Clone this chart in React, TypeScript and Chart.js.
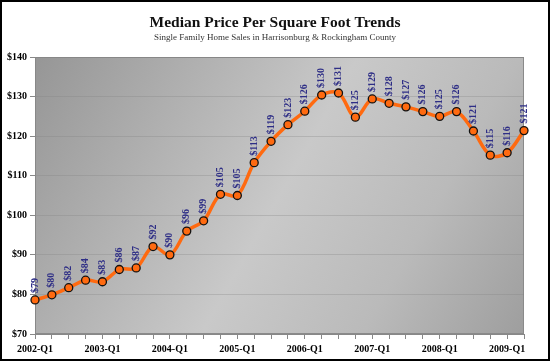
import React, { useEffect, useRef } from "react";
import { Chart, registerables } from "chart.js";

Chart.register(...registerables);

const TITLE = "Median Price Per Square Foot Trends";
const SUBTITLE = "Single Family Home Sales in Harrisonburg & Rockingham County";

const quarters: string[] = [
  "2002-Q1", "2002-Q2", "2002-Q3", "2002-Q4",
  "2003-Q1", "2003-Q2", "2003-Q3", "2003-Q4",
  "2004-Q1", "2004-Q2", "2004-Q3", "2004-Q4",
  "2005-Q1", "2005-Q2", "2005-Q3", "2005-Q4",
  "2006-Q1", "2006-Q2", "2006-Q3", "2006-Q4",
  "2007-Q1", "2007-Q2", "2007-Q3", "2007-Q4",
  "2008-Q1", "2008-Q2", "2008-Q3", "2008-Q4",
  "2009-Q1", "2009-Q2",
];

const pricePerSqFt: number[] = [
  78.6, 79.9, 81.7, 83.6, 83.2, 86.3, 86.7, 92.1, 90.0, 96.0,
  98.6, 105.3, 105.0, 113.3, 118.7, 122.9, 126.3, 130.4, 130.9, 124.8,
  129.4, 128.3, 127.4, 126.2, 125.0, 126.2, 121.3, 115.2, 115.8, 121.4,
];

const yTicksMin = 70;
const yTicksMax = 140;
const yStep = 10;

const SERIF = "'Liberation Serif', 'DejaVu Serif', serif";

const decorPlugin = {
  id: "decor",
  beforeDraw(chart: any) {
    const { ctx, chartArea: a, width, height } = chart;
    ctx.save();
    ctx.fillStyle = "#ffffff";
    ctx.fillRect(0, 0, width, height);
    const g = ctx.createLinearGradient(a.left, a.top, a.right, a.bottom);
    g.addColorStop(0, "#969696");
    g.addColorStop(0.5, "#c9c9c9");
    g.addColorStop(0.75, "#bababa");
    g.addColorStop(1, "#9e9e9e");
    ctx.fillStyle = g;
    ctx.fillRect(a.left, a.top, a.right - a.left, a.bottom - a.top);
    ctx.strokeStyle = "#8a8a8a";
    ctx.lineWidth = 1;
    ctx.strokeRect(a.left + 0.5, a.top + 0.5, a.right - a.left - 1, a.bottom - a.top - 1);
    ctx.restore();
  },
  afterDraw(chart: any) {
    const { ctx, width, height } = chart;
    ctx.save();
    ctx.textAlign = "center";
    ctx.textBaseline = "middle";
    ctx.fillStyle = "#111111";
    ctx.font = `bold 15.5px ${SERIF}`;
    ctx.fillText(TITLE, width / 2, 23);
    ctx.fillStyle = "#333333";
    ctx.font = `9px ${SERIF}`;
    ctx.fillText(SUBTITLE, width / 2, 38);

    // rotated data labels
    const meta = chart.getDatasetMeta(0);
    ctx.fillStyle = "#2e2e86";
    ctx.font = `bold 10px ${SERIF}`;
    ctx.textAlign = "left";
    ctx.textBaseline = "middle";
    meta.data.forEach((pt: any, i: number) => {
      const v = pricePerSqFt[i];
      const label = "$" + Math.round(v);
      ctx.save();
      ctx.translate(pt.x, pt.y - 7);
      ctx.rotate(-Math.PI / 2);
      ctx.fillText(label, 0, 0);
      ctx.restore();
    });

    ctx.strokeStyle = "#000000";
    ctx.lineWidth = 2;
    ctx.strokeRect(1, 1, width - 2, height - 2);
    ctx.restore();
  },
};

export default function App() {
  const ref = useRef<HTMLCanvasElement | null>(null);

  useEffect(() => {
    document.body.style.margin = "0";
    if (!ref.current) return;
    const chart = new Chart(ref.current, {
      type: "line",
      data: {
        labels: quarters,
        datasets: [
          {
            data: pricePerSqFt,
            borderColor: "#ff6a10",
            borderWidth: 3.5,
            tension: 0.35,
            pointRadius: 4,
            pointBackgroundColor: "#ff6a10",
            pointBorderColor: "#111111",
            pointBorderWidth: 1.3,
            clip: false as any,
          },
        ],
      },
      options: {
        responsive: false,
        animation: false,
        devicePixelRatio: 1,
        layout: { padding: { top: 57, right: 26, left: 0, bottom: 0 } },
        plugins: {
          legend: { display: false },
          tooltip: { enabled: false },
          title: { display: false },
        },
        scales: {
          x: {
            offset: false,
            grid: {
              offset: false,
              drawOnChartArea: false,
              drawTicks: true,
              tickLength: 5,
              tickColor: "#888888",
            },
            border: { color: "#888888", width: 1 },
            ticks: {
              autoSkip: false,
              maxRotation: 0,
              minRotation: 0,
              padding: 4,
              color: "#000000",
              font: { family: SERIF, size: 10, weight: "bold" },
              callback: (_v: any, i: number) => (i % 4 === 0 ? quarters[i] : ""),
            },
            afterFit: (s: any) => {
              s.height = 27;
            },
          },
          y: {
            min: yTicksMin,
            max: yTicksMax,
            grid: {
              color: "rgba(130,130,130,0.3)",
              tickColor: "#888888",
              tickLength: 5,
            },
            border: { color: "#888888", width: 1 },
            ticks: {
              stepSize: yStep,
              padding: 3,
              color: "#000000",
              font: { family: SERIF, size: 10, weight: "bold" },
              callback: (v: any) => "$" + v,
            },
            afterFit: (s: any) => {
              s.width = 35;
            },
          },
        },
      },
      plugins: [decorPlugin],
    });
    return () => chart.destroy();
  }, []);

  return (
    <div style={{ position: "absolute", left: 0, top: 0, width: 550, height: 361 }}>
      <canvas ref={ref} width={550} height={361} style={{ display: "block" }} />
    </div>
  );
}
